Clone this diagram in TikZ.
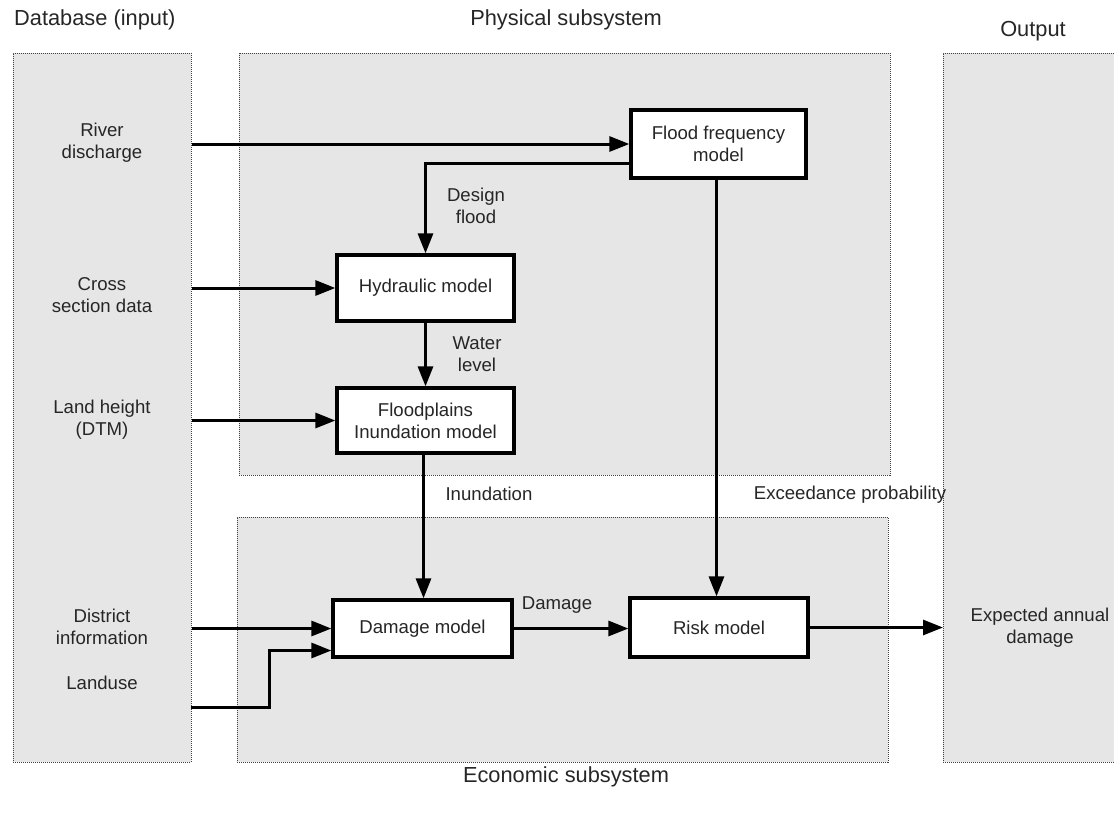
\documentclass[tikz,border=0pt]{standalone}
\usepackage{fontspec}
\setmainfont{Liberation Sans}
\usetikzlibrary{arrows.meta,calc}
\definecolor{txt}{HTML}{262626}
\definecolor{panelfill}{HTML}{E6E6E6}
\definecolor{panelline}{HTML}{404040}
\tikzset{
  panel/.style={fill=panelfill, draw=panelline, dash pattern=on 1pt off 1pt, line width=1pt, inner sep=0pt},
  model/.style={draw=black, fill=white, line width=3.3pt, inner sep=0pt, align=center, text=txt,
    font=\fontsize{18.6}{22}\selectfont},
  lbl/.style={align=center, text=txt, font=\fontsize{18.6}{22}\selectfont, inner sep=0pt},
  ttl/.style={text=txt, font=\fontsize{21.8}{26}\selectfont, inner sep=0pt},
  arr/.style={draw=black, line width=3pt, -{Triangle[length=20pt,width=15pt]}},
}
\begin{document}
\begin{tikzpicture}[x=1pt,y=-1pt]
\useasboundingbox (0,0) rectangle (1114,814);
% panels
\node[panel, minimum width=178pt, minimum height=709pt] (db) at (102,407.5) {};
\node[panel, minimum width=651pt, minimum height=422pt] (phys) at (564.5,264) {};
\node[panel, minimum width=651pt, minimum height=245pt] (econ) at (562.5,639.5) {};
\fill[panelfill] (943,53) rectangle (1114,762);
\draw[draw=panelline, dash pattern=on 1pt off 1pt, line width=1pt] (1114,53) -- (943,53) -- (943,762) -- (1114,762);
\coordinate (outw) at (943,628);
% titles
\node[ttl, anchor=west] (tdb) at (14,20) {Database (input)};
\node[ttl] (tphys) at (566,20) {Physical subsystem};
\node[ttl] (tout) at (1033,31) {Output};
\node[ttl] (tecon) at (566,777) {Economic subsystem};
% input labels
\node[lbl] (lriver) at (102,143) {River\\discharge};
\node[lbl] (lcross) at (102,295) {Cross\\section data};
\node[lbl] (lland) at (102,420) {Land height\\(DTM)};
\node[lbl] (ldist) at (102,627) {District\\information};
\node[lbl] (lluse) at (102,683) {Landuse};
\node[lbl] (lout) at (1040,628) {Expected annual\\damage};
% models
\node[model, minimum width=175pt, minimum height=68pt] (ff) at (718.5,144) {Flood frequency\\model};
\node[model, minimum width=177pt, minimum height=66pt] (hyd) at (425.5,288) {Hydraulic model};
\node[model, minimum width=177pt, minimum height=65pt] (fp) at (425.5,420.5) {Floodplains\\Inundation model};
\node[model, minimum width=179pt, minimum height=57pt] (dm) at (422.5,628.5) {Damage model};
\node[model, minimum width=178pt, minimum height=59pt] (rm) at (719,627.5) {Risk model};
% connector labels
\node[lbl] (ldesign) at (476,206) {Design\\flood};
\node[lbl] (lwater) at (477,354) {Water\\level};
\node[lbl] (linund) at (489,494) {Inundation};
\node[lbl] (lexc) at (850,495) {Exceedance probability};
\node[lbl] (ldam) at (557,605) {Damage};
% connectors
\draw[arr] (db.east |- ff.west) -- (ff.west);
\draw[arr] ([yshift=-19pt]ff.west) -| (hyd.north);
\draw[arr] (db.east |- hyd.west) -- (hyd.west);
\draw[arr] (hyd.south) -- (fp.north);
\draw[arr] (db.east |- fp.west) -- (fp.west);
\draw[arr] ([xshift=-2pt]fp.south) -- ([xshift=-2pt]fp.south |- dm.north);
\draw[arr] ([xshift=-2pt]ff.south) -- ([xshift=-2pt]ff.south |- rm.north);
\draw[arr] (db.east |- dm.west) -- (dm.west);
\coordinate (lu) at (191,707);
\draw[arr] (lu) -- (269,707) |- ([yshift=-22pt]dm.west);
\draw[arr] (dm.east) -- (dm.east -| rm.west);
\draw[arr] (rm.east) -- (rm.east -| outw);
\end{tikzpicture}
\end{document}
